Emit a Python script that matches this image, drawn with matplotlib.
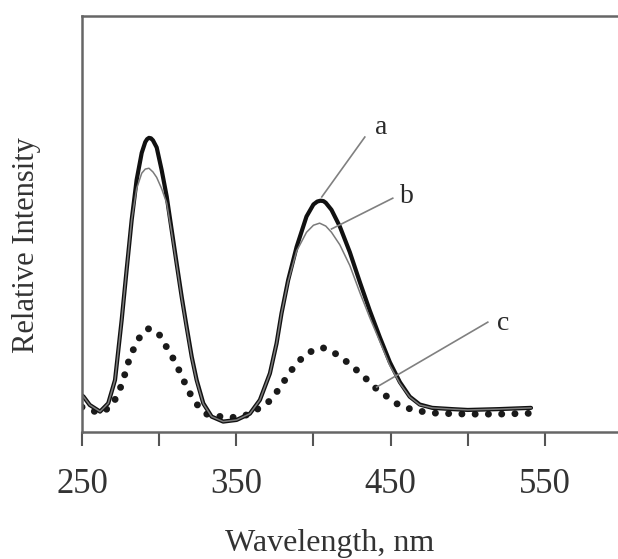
import matplotlib
matplotlib.use('Agg')
import matplotlib.pyplot as plt

# wavelength (nm) and relative intensity
wl_a = [250, 251, 255, 261.7, 267, 271.4, 275.7, 278.9, 282.2, 285.4, 288.7, 291, 292.2,
        293.4, 294.7, 296, 298.4, 301.6, 304.9, 308.1, 311.3, 314.6, 317.8, 321.1, 324.3,
        328.6, 334, 341.5, 350.2, 358.8, 365.3, 371.8, 376.1, 379.3, 383.6, 389.1, 395.5,
        400, 402.5, 404.6, 406.5, 408, 411.7, 417.1, 423.6, 430.1, 436.5, 443, 449.5, 456,
        462.4, 468.9, 477, 490, 500, 520, 541]
int_a = [0.088, 0.085, 0.065, 0.049, 0.069, 0.125, 0.269, 0.389, 0.51, 0.606, 0.671, 0.697,
         0.704, 0.707, 0.706, 0.701, 0.684, 0.63, 0.566, 0.486, 0.406, 0.325, 0.253, 0.181,
         0.125, 0.069, 0.037, 0.025, 0.029, 0.044, 0.077, 0.141, 0.213, 0.285, 0.365, 0.445,
         0.518, 0.547, 0.554, 0.556, 0.555, 0.551, 0.534, 0.494, 0.432, 0.36, 0.292, 0.228,
         0.168, 0.12, 0.085, 0.066, 0.058, 0.055, 0.053, 0.055, 0.058]

wl_b = [250, 251, 255, 261.7, 267, 271.4, 275.7, 278.9, 282.2, 285.4, 288.7, 291, 293.4, 296,
        298.4, 301.6, 304.9, 308.1, 311.3, 314.6, 317.8, 321.1, 324.3, 328.6, 334, 341.5,
        350.2, 358.8, 365.3, 371.8, 376.1, 379.3, 383.6, 389.1, 395.5, 400, 404, 408,
        411.7, 417.1, 423.6, 430.1, 436.5, 443, 449.5, 456, 462.4, 468.9, 477, 490, 500,
        520, 541]
int_b = [0.088, 0.085, 0.065, 0.049, 0.069, 0.125, 0.269, 0.389, 0.51, 0.585, 0.622, 0.632,
         0.634, 0.625, 0.612, 0.585, 0.55, 0.48, 0.403, 0.322, 0.25, 0.179, 0.123, 0.068,
         0.037, 0.025, 0.029, 0.044, 0.077, 0.141, 0.213, 0.285, 0.362, 0.435, 0.48, 0.497,
         0.502, 0.495, 0.48, 0.45, 0.40, 0.335, 0.275, 0.218, 0.16, 0.117, 0.084, 0.065,
         0.058, 0.055, 0.053, 0.055, 0.058]

wl_c = [250, 252, 257, 263.7, 270, 274.6, 277.8, 281, 285.4, 289, 293, 297, 300.5, 304.8,
        310, 314.6, 318.9, 324.3, 330.8, 341.5, 350, 358.8, 365, 371.8, 378, 383.6, 389,
        396.6, 405.9, 415, 423.6, 432.2, 439.8, 448.4, 456, 466.8, 480, 500, 520, 541]
int_c = [0.06, 0.055, 0.05, 0.048, 0.067, 0.103, 0.139, 0.18, 0.215, 0.238, 0.248, 0.245,
         0.232, 0.204, 0.171, 0.135, 0.099, 0.067, 0.043, 0.036, 0.035, 0.043, 0.058, 0.075,
         0.105, 0.137, 0.165, 0.191, 0.203, 0.187, 0.163, 0.135, 0.107, 0.083, 0.063, 0.051,
         0.045, 0.043, 0.043, 0.045]

labels = ['a', 'b', 'c']
label_pos = [(443.7, 0.731), (460.5, 0.565), (522.7, 0.262)]
leader_from = [(433.3, 0.709), (451.4, 0.562), (513, 0.264)]
leader_to = [(405.4, 0.565), (411.7, 0.488), (441, 0.108)]

tick_vals = [250, 350, 450, 550]
minor_vals = [300, 400, 500]

serif = 'Liberation Serif'

fig = plt.figure(figsize=(6.18, 5.59), dpi=100)
ax = fig.add_axes([0.1327, 0.2272, 0.8738, 0.7442])

ax.plot(wl_c, int_c, color='#1a1a1a', lw=5.0, linestyle=(0, (0.01, 1.9)),
        dash_capstyle='round')
ax.plot(wl_a, int_a, color='#111111', lw=3.0, solid_capstyle='round',
        solid_joinstyle='round')
ax.plot(wl_b, int_b, color='#7a7a7a', lw=1.1, solid_joinstyle='round')

# leader lines and curve labels
for lab, p, f, t in zip(labels, label_pos, leader_from, leader_to):
    ax.plot([f[0], t[0]], [f[1], t[1]], color='#808080', lw=1.2)
    ax.text(p[0], p[1], lab, family=serif, fontsize=20, color='#2a2a2a',
            ha='center', va='center')

ax.set_xlim(250, 600)
ax.set_ylim(0, 1)
ax.set_xticks(tick_vals)
ax.set_xticks(minor_vals, minor=True)
ax.set_xticklabels([str(v) for v in tick_vals], family=serif, fontsize=25, color='#333333')
ax.tick_params(axis='x', which='both', direction='out', length=10, width=1.5,
               color='#555555', pad=16)
ax.set_yticks([])

for s in ['top', 'left', 'bottom', 'right']:
    ax.spines[s].set_color('#666666')
    ax.spines[s].set_linewidth(1.8)

fig.text(27 / 618, 1 - 245 / 559, 'Relative Intensity', rotation=90, family=serif,
         fontsize=22, color='#333333', ha='center', va='center')
fig.text(330 / 618, 1 - 543 / 559, 'Wavelength, nm', family=serif, fontsize=23,
         color='#333333', ha='center', va='center')

fig.savefig('out.png', dpi=100)
